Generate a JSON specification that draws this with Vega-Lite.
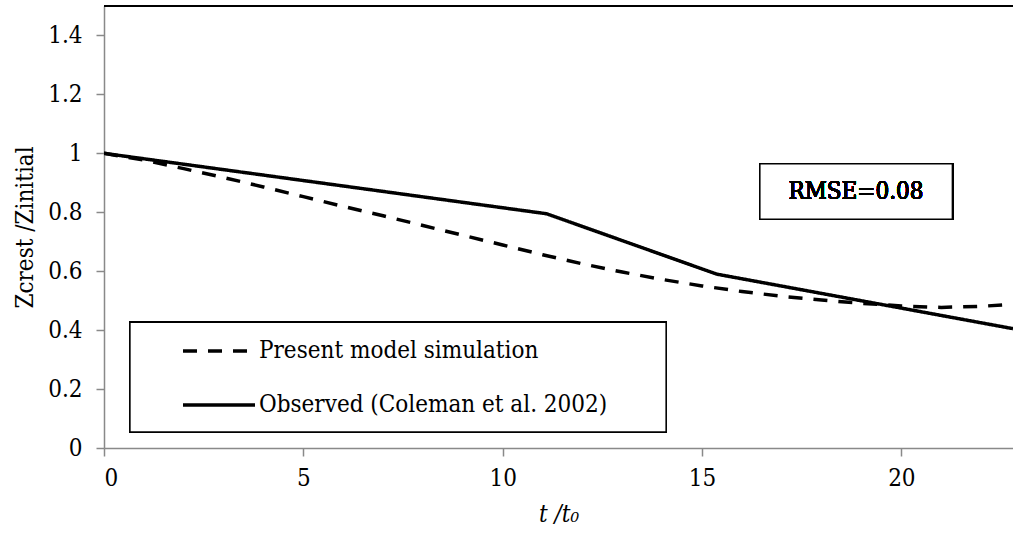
{
  "$schema": "https://vega.github.io/schema/vega-lite/v6.json",
  "autosize": {"type": "none"},
  "width": 909,
  "height": 442,
  "padding": {"left": 104, "top": 6, "right": 0, "bottom": 93},
  "background": "white",
  "config": {
    "view": {"stroke": null},
    "font": "DejaVu Serif Condensed, DejaVu Serif, serif",
    "axis": {
      "grid": false,
      "domainColor": "#898989",
      "domainWidth": 1.5,
      "tickColor": "#898989",
      "tickWidth": 1.5,
      "tickSize": 8,
      "labelFont": "DejaVu Serif Condensed, DejaVu Serif, serif",
      "labelFontSize": 24,
      "labelColor": "black",
      "titleFont": "DejaVu Serif Condensed, DejaVu Serif, serif",
      "titleFontSize": 24,
      "titleColor": "black",
      "titleFontWeight": "normal"
    }
  },
  "data": {
    "values": [
      {"t": 0, "z": 1.0, "series": "Present model simulation"},
      {"t": 1, "z": 0.977, "series": "Present model simulation"},
      {"t": 2, "z": 0.948, "series": "Present model simulation"},
      {"t": 3, "z": 0.918, "series": "Present model simulation"},
      {"t": 4, "z": 0.886, "series": "Present model simulation"},
      {"t": 5, "z": 0.853, "series": "Present model simulation"},
      {"t": 6, "z": 0.82, "series": "Present model simulation"},
      {"t": 7, "z": 0.788, "series": "Present model simulation"},
      {"t": 8, "z": 0.755, "series": "Present model simulation"},
      {"t": 9, "z": 0.722, "series": "Present model simulation"},
      {"t": 10, "z": 0.689, "series": "Present model simulation"},
      {"t": 11, "z": 0.656, "series": "Present model simulation"},
      {"t": 12, "z": 0.625, "series": "Present model simulation"},
      {"t": 13, "z": 0.597, "series": "Present model simulation"},
      {"t": 14, "z": 0.572, "series": "Present model simulation"},
      {"t": 15, "z": 0.55, "series": "Present model simulation"},
      {"t": 16, "z": 0.531, "series": "Present model simulation"},
      {"t": 17, "z": 0.515, "series": "Present model simulation"},
      {"t": 18, "z": 0.502, "series": "Present model simulation"},
      {"t": 19, "z": 0.491, "series": "Present model simulation"},
      {"t": 20, "z": 0.482, "series": "Present model simulation"},
      {"t": 21, "z": 0.477, "series": "Present model simulation"},
      {"t": 22, "z": 0.481, "series": "Present model simulation"},
      {"t": 22.8, "z": 0.487, "series": "Present model simulation"},
      {"t": 0, "z": 1.0, "series": "Observed (Coleman et al. 2002)"},
      {"t": 11.1, "z": 0.795, "series": "Observed (Coleman et al. 2002)"},
      {"t": 15.37, "z": 0.59, "series": "Observed (Coleman et al. 2002)"},
      {"t": 22.8, "z": 0.405, "series": "Observed (Coleman et al. 2002)"}
    ]
  },
  "layer": [
    {
      "mark": {"type": "rect", "fill": "white", "stroke": "black", "strokeWidth": 1.5},
      "encoding": {
        "x": {"datum": 0.65, "type": "quantitative"},
        "x2": {"datum": 14.1},
        "y": {"datum": 0.054, "type": "quantitative"},
        "y2": {"datum": 0.427}
      }
    },
    {
      "mark": {"type": "line", "strokeWidth": 3.5, "color": "black", "clip": true},
      "encoding": {
        "x": {
          "field": "t", "type": "quantitative",
          "scale": {"domain": [0, 22.8], "nice": false, "zero": false},
          "axis": {"values": [0, 5, 10, 15, 20], "title": "t /t₀", "titleFontStyle": "italic", "labelPadding": 10, "titlePadding": 12}
        },
        "y": {
          "field": "z", "type": "quantitative",
          "scale": {"domain": [0, 1.5], "nice": false},
          "axis": {"values": [0, 0.2, 0.4, 0.6, 0.8, 1, 1.2, 1.4], "format": "~g", "title": "Zcrest /Zinitial", "labelPadding": 14, "titlePadding": 10}
        },
        "strokeDash": {
          "field": "series", "type": "nominal",
          "scale": {"domain": ["Present model simulation", "Observed (Coleman et al. 2002)"], "range": [[14, 11], [1, 0]]},
          "legend": {
            "title": null,
            "orient": "none",
            "legendX": 77,
            "legendY": 331,
            "padding": 0,
            "symbolType": "stroke",
            "symbolSize": 5184,
            "symbolStrokeWidth": 3.5,
            "symbolStrokeColor": "black",
            "labelFont": "DejaVu Serif Condensed, DejaVu Serif, serif",
            "labelFontSize": 24,
            "labelColor": "black",
            "labelOffset": 2,
            "labelLimit": 600,
            "clipHeight": 28,
            "rowPadding": 26
          }
        },
        "detail": {"field": "series"}
      }
    },
    {
      "mark": {"type": "rule", "color": "black", "strokeWidth": 2},
      "encoding": {"y": {"datum": 1.5, "type": "quantitative"}}
    },
    {
      "mark": {"type": "rect", "fill": "white", "stroke": "black", "strokeWidth": 1.5},
      "encoding": {
        "x": {"datum": 16.45, "type": "quantitative"},
        "x2": {"datum": 21.28},
        "y": {"datum": 0.776, "type": "quantitative"},
        "y2": {"datum": 0.965}
      }
    },
    {
      "mark": {"type": "text", "font": "DejaVu Serif Condensed, DejaVu Serif, serif", "fontSize": 24, "fontWeight": "normal", "fill": "black", "stroke": null, "strokeWidth": 0, "align": "center", "baseline": "middle", "text": "RMSE=0.08"},
      "encoding": {
        "x": {"datum": 18.86, "type": "quantitative"},
        "y": {"datum": 0.87, "type": "quantitative"}
      }
    }
  ]
}
